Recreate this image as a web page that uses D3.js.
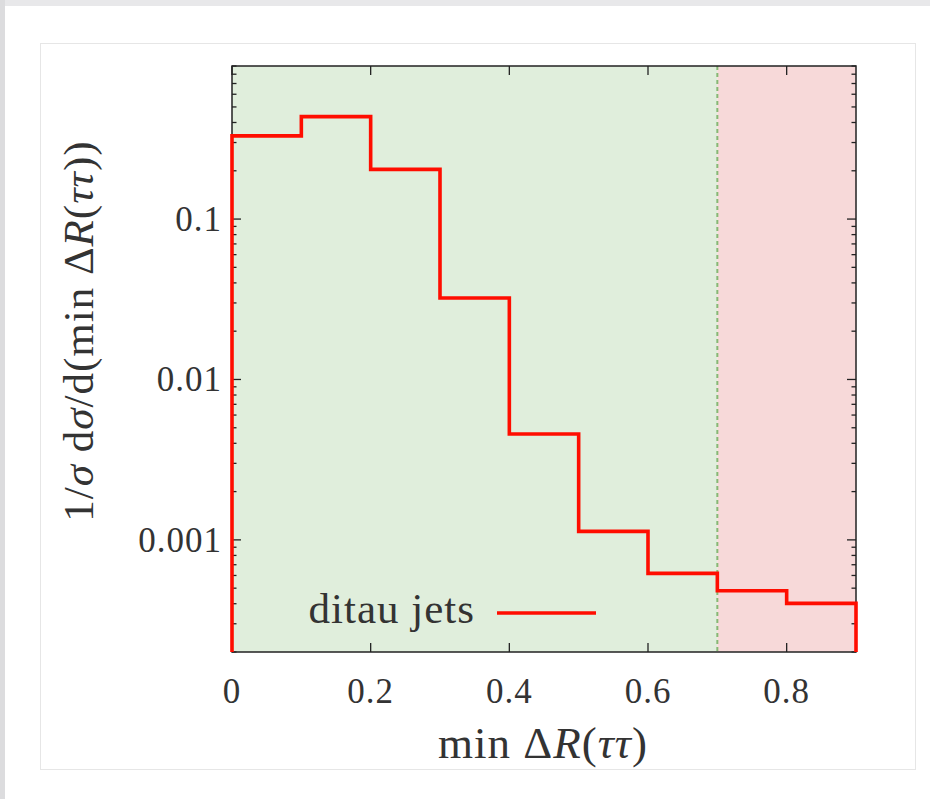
<!DOCTYPE html>
<html><head><meta charset="utf-8">
<script src="https://cdn.jsdelivr.net/npm/d3@7"></script>
<style>
html,body{margin:0;padding:0;background:#fff;}
svg{display:block;}
text{font-family:"Liberation Serif","DejaVu Serif",serif;fill:#333;}
</style></head>
<body>
<svg id="c" width="930" height="799"></svg>
<script>
// Data
const binEdges = [0, 0.1, 0.2, 0.3, 0.4, 0.5, 0.6, 0.7, 0.8, 0.9];
const binValues = [0.33, 0.435, 0.204, 0.0322, 0.00457, 0.00113, 0.000618, 0.000482, 0.000402];
const xTicks = [0, 0.2, 0.4, 0.6, 0.8];
const xTickLabels = ["0", "0.2", "0.4", "0.6", "0.8"];
const yMajorTicks = [0.001, 0.01, 0.1];
const yTickLabels = ["0.001", "0.01", "0.1"];
const xDomain = [0, 0.9];
const yDomain = [0.0002, 0.9];
const cutValue = 0.7;
const seriesName = "ditau jets";

const svg = d3.select("#c");
// page chrome
svg.append("rect").attr("x",0).attr("y",0).attr("width",930).attr("height",799).attr("fill","#fff");
svg.append("rect").attr("x",0).attr("y",0).attr("width",930).attr("height",6).attr("fill","#e8e8ea");
svg.append("rect").attr("x",0).attr("y",0).attr("width",5).attr("height",799).attr("fill","#dcdcde");
svg.append("rect").attr("x",40.5).attr("y",43.5).attr("width",875).attr("height",726)
  .attr("fill","#fff").attr("stroke","#e6e6e6").attr("stroke-width",1);

const L=232, R=856, T=66, B=652;
const x = d3.scaleLinear().domain(xDomain).range([L,R]);
const y = d3.scaleLog().domain(yDomain).range([B,T]);

// regions
svg.append("rect").attr("x",x(xDomain[0])).attr("y",T).attr("width",x(cutValue)-x(xDomain[0])).attr("height",B-T).attr("fill","#e0eedc");
svg.append("rect").attr("x",x(cutValue)).attr("y",T).attr("width",x(xDomain[1])-x(cutValue)).attr("height",B-T).attr("fill","#f7d9d9");
svg.append("line").attr("x1",x(cutValue)).attr("x2",x(cutValue)).attr("y1",T).attr("y2",B)
  .attr("stroke","#86b874").attr("stroke-width",2).attr("stroke-dasharray","4,3");

// histogram step
const pts=[[binEdges[0], yDomain[0]]];
binValues.forEach((v,i)=>{pts.push([binEdges[i],v]);pts.push([binEdges[i+1],v]);});
pts.push([binEdges[binEdges.length-1], yDomain[0]]);

// ticks
const minor=[];
for(let e=-4;e<=0;e++){for(let k=2;k<=9;k++){const v=k*Math.pow(10,e); if(v>=yDomain[0]&&v<=yDomain[1]) minor.push(v);}}
const tg=svg.append("g").attr("stroke","#222").attr("stroke-width",1.3);
yMajorTicks.forEach(v=>{
  tg.append("line").attr("x1",L).attr("x2",L+9).attr("y1",y(v)).attr("y2",y(v));
  tg.append("line").attr("x1",R).attr("x2",R-9).attr("y1",y(v)).attr("y2",y(v));
});
minor.forEach(v=>{
  tg.append("line").attr("x1",L).attr("x2",L+4.5).attr("y1",y(v)).attr("y2",y(v));
  tg.append("line").attr("x1",R).attr("x2",R-4.5).attr("y1",y(v)).attr("y2",y(v));
});
xTicks.forEach(v=>{
  tg.append("line").attr("x1",x(v)).attr("x2",x(v)).attr("y1",B).attr("y2",B-9);
  tg.append("line").attr("x1",x(v)).attr("x2",x(v)).attr("y1",T).attr("y2",T+9);
});
// frame
svg.append("rect").attr("x",L).attr("y",T).attr("width",R-L).attr("height",B-T)
  .attr("fill","none").attr("stroke","#222").attr("stroke-width",1.5);
svg.append("path").attr("d", d3.line().x(d=>x(d[0])).y(d=>y(d[1]))(pts))
  .attr("fill","none").attr("stroke","#ff0d00").attr("stroke-width",3.6);

// tick labels
xTicks.forEach((v,i)=>{
  svg.append("text").attr("x",x(v)).attr("y",703).attr("text-anchor","middle")
    .attr("font-size",35).attr("letter-spacing",1).text(xTickLabels[i]);
});
yMajorTicks.forEach((v,i)=>{
  svg.append("text").attr("x",L-10).attr("y",y(v)+12).attr("text-anchor","end")
    .attr("font-size",35).attr("letter-spacing",1).text(yTickLabels[i]);
});

// axis labels
function rich(sel, parts){parts.forEach(p=>{sel.append("tspan").attr("font-style",p[1]?"italic":"normal").text(p[0]);});}
const xl=svg.append("text").attr("x",543).attr("y",758).attr("text-anchor","middle").attr("font-size",45).attr("letter-spacing",1);
rich(xl,[["min ",0],["Δ",0],["R",1],["(",0],["ττ",1],[")",0]]);
const yl=svg.append("text").attr("transform","translate(93,331) rotate(-90)").attr("text-anchor","middle").attr("font-size",43).attr("letter-spacing",1);
rich(yl,[["1/",0],["σ",1],[" d",0],["σ",1],["/d(min ",0],["Δ",0],["R",1],["(",0],["ττ",1],["))",0]]);

// legend
svg.append("text").attr("x",475).attr("y",623).attr("text-anchor","end").attr("font-size",43).attr("letter-spacing",1).text(seriesName);
svg.append("line").attr("x1",497).attr("x2",596).attr("y1",613).attr("y2",613)
  .attr("stroke","#ff0d00").attr("stroke-width",3.6);
</script>
</body></html>
